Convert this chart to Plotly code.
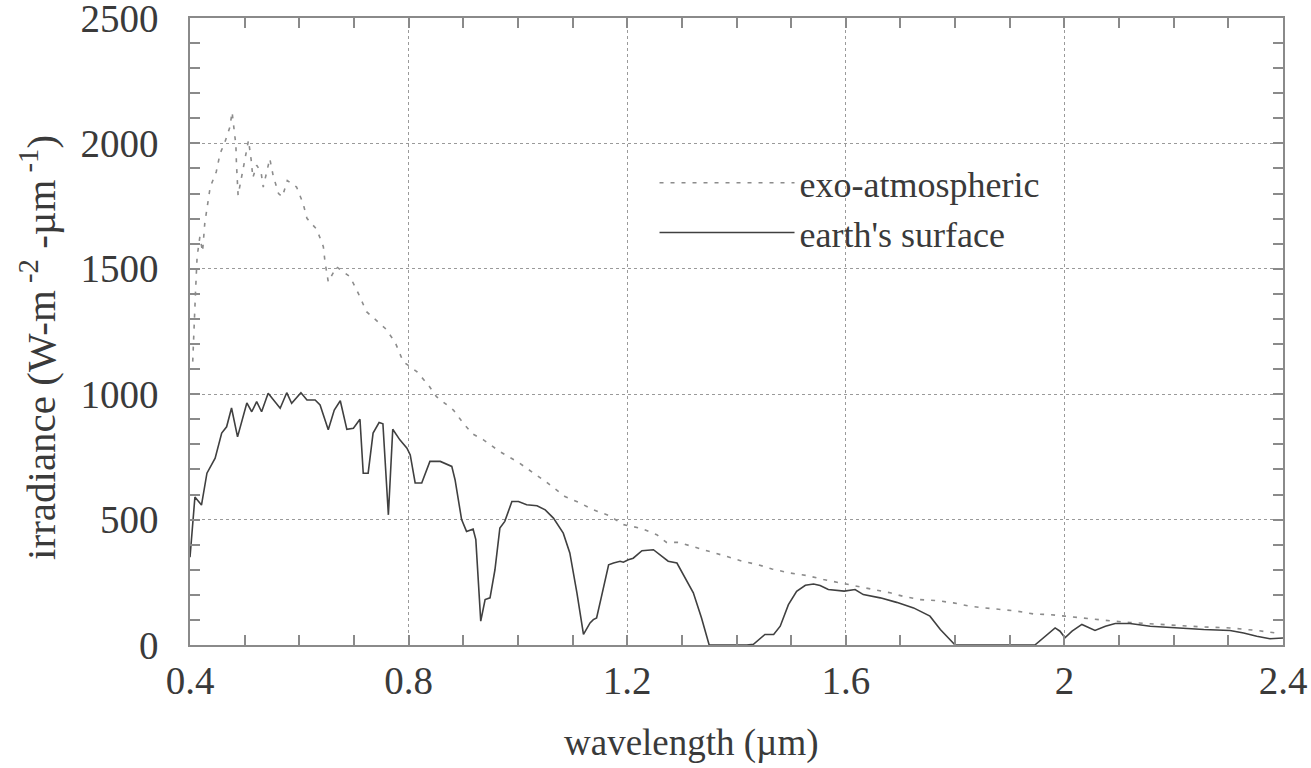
import plotly.graph_objects as go

# earth's surface spectrum (wavelength in um, irradiance W m^-2 um^-1)
surf_wl = [0.400, 0.409, 0.421, 0.431, 0.446, 0.458, 0.467, 0.476, 0.487, 0.504,
           0.513, 0.522, 0.531, 0.543, 0.565, 0.577, 0.586, 0.603, 0.614, 0.629,
           0.638, 0.653, 0.664, 0.675, 0.687, 0.699, 0.711, 0.717, 0.726, 0.735,
           0.746, 0.753, 0.763, 0.771, 0.784, 0.797, 0.803, 0.812, 0.824, 0.839,
           0.858, 0.879, 0.885, 0.897, 0.906, 0.918, 0.923, 0.932, 0.940, 0.949,
           0.958, 0.967, 0.976, 0.989, 1.001, 1.016, 1.035, 1.050, 1.065, 1.083,
           1.095, 1.108, 1.120, 1.132, 1.138, 1.144, 1.153, 1.166, 1.175, 1.187,
           1.193, 1.202, 1.211, 1.227, 1.248, 1.260, 1.275, 1.291, 1.303, 1.321,
           1.336, 1.350, 1.419, 1.431, 1.452, 1.468, 1.480, 1.495, 1.510, 1.526,
           1.541, 1.553, 1.568, 1.584, 1.597, 1.617, 1.632, 1.663, 1.693, 1.724,
           1.754, 1.773, 1.800, 1.946, 1.968, 1.983, 1.992, 2.001, 2.014, 2.032,
           2.056, 2.075, 2.093, 2.120, 2.157, 2.206, 2.255, 2.303, 2.328, 2.352,
           2.376, 2.400]
surf_val = [350, 590, 558, 685, 745, 845, 870, 945, 830, 965,
            930, 970, 930, 1004, 944, 1006, 964, 1006, 977, 977,
            957, 858, 937, 974, 860, 864, 900, 685, 685, 845,
            887, 882, 519, 860, 818, 785, 758, 646, 646, 732,
            732, 712, 659, 500, 453, 462, 420, 95, 181, 188,
            300, 466, 493, 572, 572, 559, 555, 539, 506, 446,
            367, 208, 42, 88, 101, 108, 194, 320, 327, 334,
            330, 340, 346, 376, 380, 360, 334, 327, 281, 208,
            108, 0, 0, 3, 42, 42, 75, 161, 214, 238,
            243, 237, 221, 219, 215, 221, 201, 188, 170, 148,
            115, 62, 0, 0, 42, 68, 55, 29, 55, 82,
            58, 75, 86, 86, 75, 68, 62, 58, 48, 35,
            25, 28]

# exo-atmospheric spectrum
exo_wl = [0.405, 0.406, 0.408, 0.410, 0.413, 0.418, 0.423, 0.427, 0.432, 0.437,
          0.448, 0.455, 0.464, 0.473, 0.477, 0.481, 0.484, 0.485, 0.486, 0.488,
          0.495, 0.501, 0.507, 0.512, 0.515, 0.522, 0.530, 0.534, 0.541, 0.546,
          0.552, 0.562, 0.569, 0.578, 0.595, 0.607, 0.614, 0.632, 0.644, 0.647,
          0.653, 0.668, 0.693, 0.708, 0.723, 0.733, 0.757, 0.775, 0.790, 0.815,
          0.836, 0.851, 0.882, 0.900, 0.917, 0.937, 0.967, 1.001, 1.025, 1.053,
          1.086, 1.111, 1.138, 1.166, 1.193, 1.224, 1.254, 1.272, 1.294, 1.321,
          1.355, 1.382, 1.410, 1.440, 1.465, 1.498, 1.529, 1.559, 1.590, 1.620,
          1.651, 1.681, 1.705, 1.736, 1.767, 1.797, 1.828, 1.852, 1.886, 1.913,
          1.943, 1.974, 2.001, 2.029, 2.059, 2.090, 2.120, 2.157, 2.206, 2.255,
          2.303, 2.352, 2.386]
exo_val = [1130, 1203, 1282, 1402, 1548, 1627, 1568, 1681, 1754, 1826,
           1886, 1959, 2006, 2065, 2125, 2052, 1992, 1919, 1853, 1793,
           1873, 1946, 2012, 1933, 1863, 1913, 1886, 1826, 1886, 1939,
           1873, 1800, 1787, 1852, 1826, 1760, 1701, 1657, 1588, 1528,
           1448, 1508, 1468, 1402, 1329, 1309, 1263, 1209, 1130, 1090,
           1037, 990, 937, 884, 842, 818, 771, 728, 692, 648,
           592, 569, 539, 517, 480, 466, 440, 409, 409, 393,
           370, 353, 334, 320, 303, 287, 277, 261, 248, 234,
           221, 208, 194, 181, 177, 168, 154, 148, 141, 135,
           124, 121, 115, 108, 101, 95, 90, 84, 78, 72,
           68, 58, 48]

x_ticks = [0.4, 0.8, 1.2, 1.6, 2.0, 2.4]
x_tick_text = ["0.4", "0.8", "1.2", "1.6", "2", "2.4"]
y_ticks = [0, 500, 1000, 1500, 2000, 2500]

FONT = "Liberation Serif, Times New Roman, serif"
TXT = "#3a3a3a"
AX = "#8a8a8a"

fig = go.Figure()
fig.add_trace(go.Scatter(x=exo_wl, y=exo_val, mode="lines", name="exo-atmospheric",
                         line=dict(color="#8c8c8c", width=1.6, dash="4px,7px")))
fig.add_trace(go.Scatter(x=surf_wl, y=surf_val, mode="lines", name="earth's surface",
                         line=dict(color="#404040", width=1.6)))

axis_common = dict(showline=True, linecolor=AX, linewidth=1.5, mirror="ticks",
                   ticks="inside", ticklen=10, tickcolor=AX, tickwidth=1.5,
                   showgrid=True, gridcolor="#9a9a9a", griddash="dot", gridwidth=1,
                   zeroline=False, ticklabeloverflow="allow", automargin=False,
                   tickfont=dict(family=FONT, size=39, color=TXT))

fig.update_xaxes(range=[0.4, 2.4], tickvals=x_ticks, ticktext=x_tick_text,
                 minor=dict(dtick=0.1, ticks="inside", ticklen=10, tickcolor=AX,
                            tickwidth=1.5, showgrid=False),
                 ticklabelstandoff=0, **axis_common)
fig.update_yaxes(range=[0, 2500], tickvals=y_ticks,
                 minor=dict(dtick=100, ticks="inside", ticklen=10, tickcolor=AX,
                            tickwidth=1.5, showgrid=False),
                 ticklabelstandoff=22, **axis_common)

fig.add_annotation(text="wavelength (µm)", xref="paper", yref="paper",
                   x=0.459, y=-0.156, xanchor="center", yanchor="middle",
                   showarrow=False, font=dict(family=FONT, size=37, color=TXT))
fig.add_annotation(text="irradiance (W-m<sup> -2</sup> -µm<sup> -1</sup>)",
                   xref="paper", yref="paper", x=-0.139, y=0.474,
                   xanchor="center", yanchor="middle", textangle=-90,
                   showarrow=False, font=dict(family=FONT, size=41, color=TXT))

fig.update_layout(
    width=1311, height=768,
    margin=dict(l=190, r=28, t=18, b=123),
    paper_bgcolor="white", plot_bgcolor="white",
    showlegend=True,
    legend=dict(x=0.425, y=0.785, xanchor="left", yanchor="top",
                bgcolor="rgba(255,255,255,0)", itemwidth=135,
                font=dict(family=FONT, size=36, color=TXT),
                tracegroupgap=0),
)

fig.write_html("out.html", config={"displayModeBar": False},
               post_script="document.body.style.margin='0';"
                           "document.body.style.overflow='hidden';")
